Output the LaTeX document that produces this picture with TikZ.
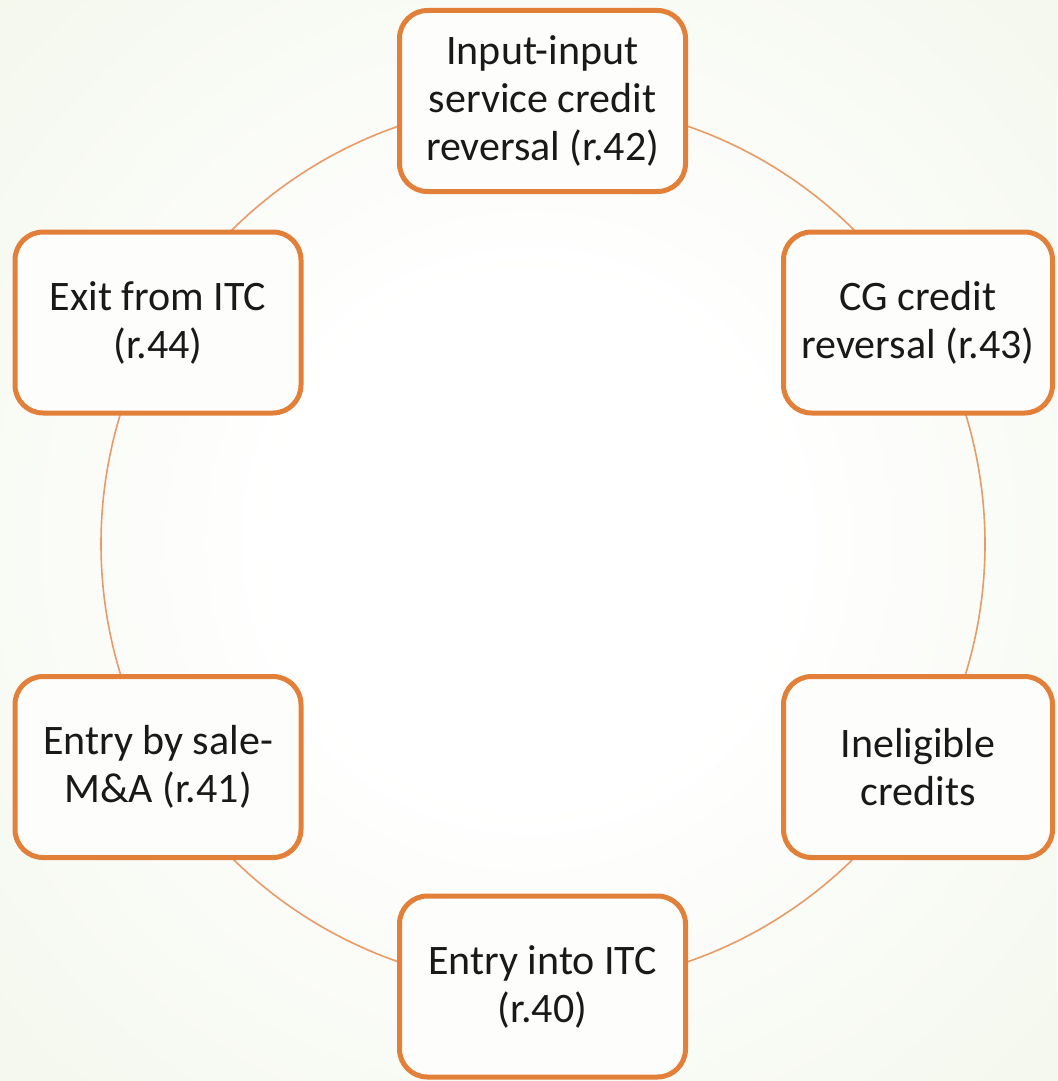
\documentclass[tikz,border=0pt]{standalone}
\usepackage{fontspec}
\setmainfont{Carlito}
\definecolor{boxorange}{RGB}{226,128,58}
\definecolor{ringorange}{RGB}{234,154,100}
\definecolor{bgedge}{RGB}{226,236,209}
\pgfdeclareradialshading{bgshade}{\pgfpoint{0bp}{0bp}}{color(0bp)=(white); color(12bp)=(white); color(72bp)=(bgedge)}
\begin{document}
\begin{tikzpicture}[x=1pt,y=-1pt,
  box/.style={draw=boxorange, line width=5pt, rounded corners=28pt,
    fill=white!93!bgedge, align=center, inner sep=0pt,
    font=\fontsize{42}{48}\selectfont, text=black!90},
  wide/.style={minimum width=286pt, minimum height=181pt},
  narrow/.style={minimum width=269pt, minimum height=181pt},
  ring/.style={draw=ringorange, line width=1.6pt}]
\shade[shading=bgshade] (0,0) rectangle (1057,1081);
\useasboundingbox (0,0) rectangle (1057,1081);
\coordinate (ctr) at (543,544);
\draw[ring] (ctr) circle [radius=442pt];
\node[box, wide]   (r42) at (542.5,101)  {Input-input\\service credit\\reversal (r.42)};
\node[box, narrow] (r43) at (918,322.5)  {CG credit\\reversal (r.43)};
\node[box, narrow] (inel) at (918,767)   {Ineligible\\credits};
\node[box, wide]   (r40) at (542.5,986.5) {Entry into ITC\\(r.40)};
\node[box, wide]   (r41) at (158,767)    {Entry by sale-\\M\&A (r.41)};
\node[box, wide]   (r44) at (158,322.5)  {Exit from ITC\\(r.44)};
\end{tikzpicture}
\end{document}
